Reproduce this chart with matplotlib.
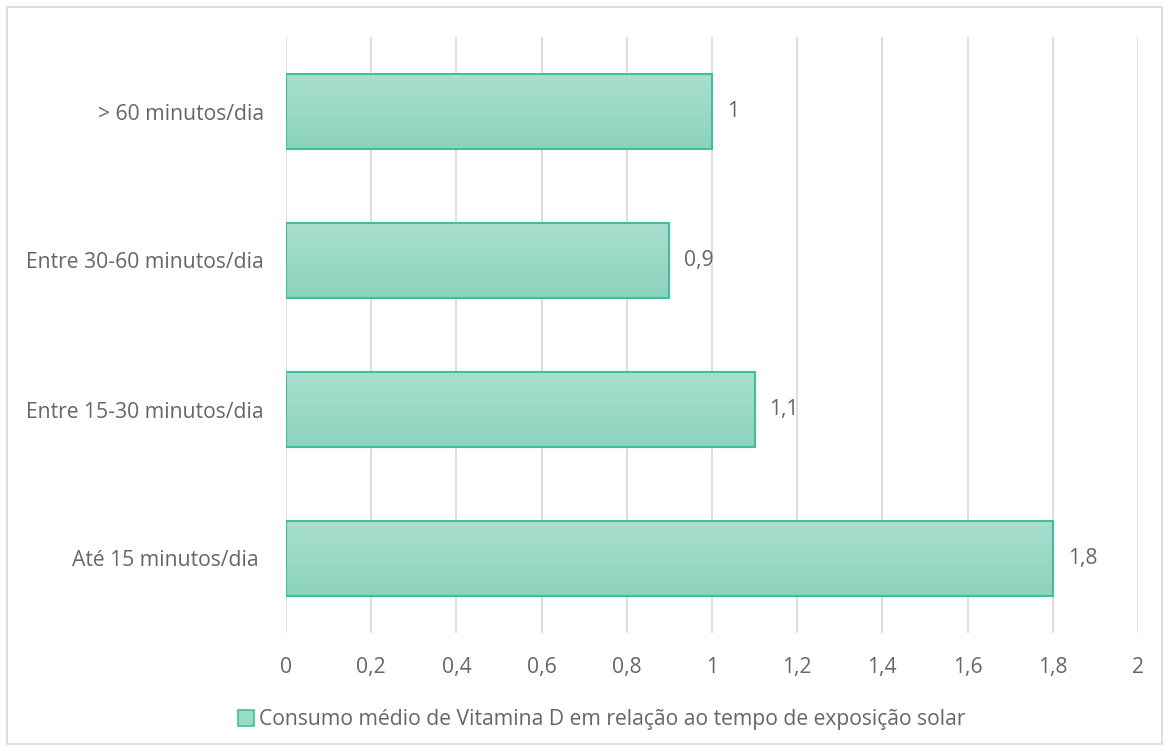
import numpy as np
import matplotlib
matplotlib.use("Agg")
from matplotlib import pyplot as plt
from matplotlib.patches import Rectangle, Patch

categorias = ["Até 15 minutos/dia ", "Entre 15-30 minutos/dia", "Entre 30-60 minutos/dia", "> 60 minutos/dia"]
valores = [1.8, 1.1, 0.9, 1.0]
rotulos = ["1,8", "1,1", "0,9", "1"]
xticks = [0, 0.2, 0.4, 0.6, 0.8, 1.0, 1.2, 1.4, 1.6, 1.8, 2.0]
xtick_labels = ["0", "0,2", "0,4", "0,6", "0,8", "1", "1,2", "1,4", "1,6", "1,8", "2"]
legenda = "Consumo médio de Vitamina D em relação ao tempo de exposição solar"

plt.rcParams['font.family'] = ['Open Sans', 'DejaVu Sans']
cinza = "#666666"
borda = "#3fbf9b"
fs = 15.2

fig = plt.figure(figsize=(11.69, 7.51), dpi=100)
fig.patches.append(Rectangle((7/1169, 7/751), 1155/1169, 737/751, transform=fig.transFigure,
                             fill=False, edgecolor="#d9d9d9", linewidth=1.2))
ax = fig.add_axes([286/1169, 1 - 633/751, 852/1169, 596/751])

y = np.arange(len(categorias))
altura = 0.51
barras = ax.barh(y, valores, height=altura, color="none", edgecolor=borda, linewidth=1.5, zorder=3)

# degradê vertical dentro de cada barra (mais claro em cima)
grad = np.linspace(0, 1, 100).reshape(-1, 1)
cmap = matplotlib.colors.LinearSegmentedColormap.from_list("g", ["#a9dfcf", "#8bd3bd"])
for b in barras:
    x0, y0 = b.get_x(), b.get_y()
    w, h = b.get_width(), b.get_height()
    im = ax.imshow(grad, cmap=cmap, aspect="auto", extent=[x0, x0 + w, y0, y0 + h],
                   origin="upper", zorder=2)
    im.set_clip_path(b)

for yi, v, r in zip(y, valores, rotulos):
    ax.text(v + 0.035, yi, r, va="center", ha="left", fontsize=fs, color=cinza)

ax.set_xlim(0, 2)
ax.set_ylim(-0.5, len(categorias) - 0.5)
ax.set_xticks(xticks)
ax.set_xticklabels(xtick_labels)
ax.set_yticks(y)
ax.set_yticklabels(categorias)
ax.tick_params(axis="both", length=0, colors=cinza, labelsize=fs)
ax.tick_params(axis="y", pad=16)
ax.tick_params(axis="x", pad=17)
ax.grid(axis="x", color="#d9d9d9", linewidth=1.2, zorder=0)
ax.set_axisbelow(True)
for s in ax.spines.values():
    s.set_visible(False)

h = Patch(facecolor="#9adbc6", edgecolor=borda, linewidth=1.2)
fig.legend([h], [legenda], loc="center", bbox_to_anchor=(602/1169, 1 - 720/751), frameon=False,
           fontsize=fs, labelcolor=cinza, handlelength=0.75, handleheight=0.75, handletextpad=0.25)

fig.savefig("out.png", dpi=100)
